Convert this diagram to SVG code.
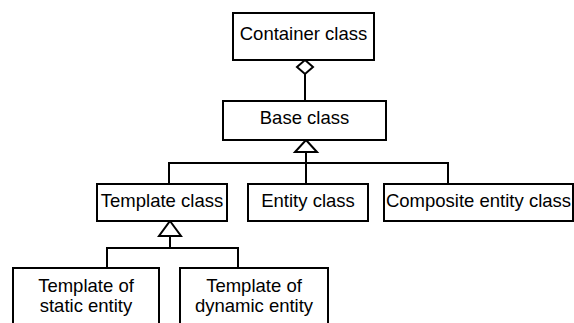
<svg xmlns="http://www.w3.org/2000/svg" width="574" height="323" viewBox="0 0 574 323">
  <style>
    .box { fill: #fff; stroke: #000; stroke-width: 2; }
    .lbl { font-family: "Liberation Sans", Arial, sans-serif; font-size: 18.5px; fill: #000; text-anchor: middle; }
    .wire { fill: none; stroke: #000; stroke-width: 2; }
    .head { fill: #fff; stroke: #000; stroke-width: 2; stroke-linejoin: miter; }
  </style>
  <rect width="574" height="323" fill="#fff"/>

  <g id="connectors">
    <!-- aggregation: Container class <>— Base class -->
    <line class="wire" x1="305" y1="74" x2="305" y2="101"/>
    <polygon class="head" points="305,60 313,67 305,74 297,67"/>
    <!-- generalisation to Base class -->
    <polyline class="wire" points="169,184 169,163 448,163 448,184"/>
    <line class="wire" x1="306" y1="152" x2="306" y2="184"/>
    <polygon class="head" points="306,140 317,152 295,152"/>
    <!-- generalisation to Template class -->
    <polyline class="wire" points="107,268 107,248 238,248 238,268"/>
    <line class="wire" x1="170" y1="236" x2="170" y2="248"/>
    <polygon class="head" points="170,221 181,236 159,236"/>
  </g>

  <g id="container-class">
    <rect class="box" x="233" y="13" width="141" height="47"/>
    <text class="lbl" x="303.5" y="40">Container class</text>
  </g>
  <g id="base-class">
    <rect class="box" x="223" y="101" width="163" height="39"/>
    <text class="lbl" x="304.5" y="124">Base class</text>
  </g>
  <g id="template-class">
    <rect class="box" x="97" y="184" width="130" height="37"/>
    <text class="lbl" x="162" y="207">Template class</text>
  </g>
  <g id="entity-class">
    <rect class="box" x="248" y="184" width="120" height="37"/>
    <text class="lbl" x="308" y="207">Entity class</text>
  </g>
  <g id="composite-entity-class">
    <rect class="box" x="384" y="184" width="189" height="37"/>
    <text class="lbl" x="478.5" y="207">Composite entity class</text>
  </g>
  <g id="template-static">
    <rect class="box" x="13" y="268" width="146" height="70"/>
    <text class="lbl" x="86" y="292">Template of</text>
    <text class="lbl" x="86" y="312">static entity</text>
  </g>
  <g id="template-dynamic">
    <rect class="box" x="180" y="268" width="148" height="70"/>
    <text class="lbl" x="254" y="292">Template of</text>
    <text class="lbl" x="254" y="312">dynamic entity</text>
  </g>
</svg>
